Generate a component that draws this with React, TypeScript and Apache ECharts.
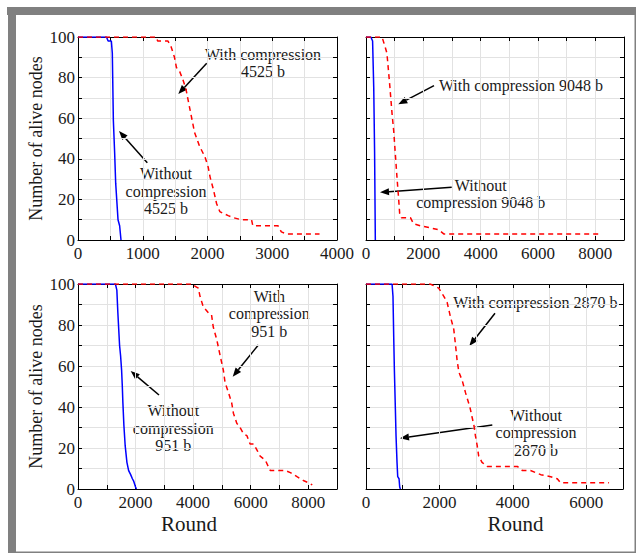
import React, { useEffect, useRef } from "react";
import * as echarts from "echarts";

// ---- data (Round, Number of alive nodes) ----
const p1Without = [[0,100],[440,100],[465,98],[515,98],[530,92],[546,59],[566,43],[582,28],[602,18],[618,10],[643,7],[664,0]];
const p1With = [[0,100],[1210,100],[1230,98],[1390,98],[1440,95],[1490,90],[1520,85],[1570,83],[1620,79],[1670,74],[1700,69],[1750,61],[1800,53],[1880,46],[1960,41],[2010,36],[2040,31],[2090,25],[2140,18],[2190,14],[2250,13],[2320,12],[2400,11],[2520,10],[2680,10],[2700,7],[3090,7],[3140,4],[3220,3],[3730,3]];
const p2Without = [[0,100],[170,100],[230,98],[270,75],[300,43],[325,0]];
const p2With = [[0,100],[560,100],[670,95],[730,92],[830,76],[910,62],[965,54],[1020,43],[1080,31],[1140,20],[1175,13],[1235,11],[1550,11],[1660,8],[1900,7],[2240,6],[2540,5],[2710,3],[8120,3]];
const p3Without = [[0,100],[1300,100],[1350,97],[1385,86],[1445,70],[1480,65],[1515,58],[1540,50],[1560,42],[1595,31],[1640,21],[1700,13],[1760,9],[1830,7],[1890,5],[1930,4],[2000,1],[2030,0]];
const p3With = [[0,100],[4000,100],[4060,99],[4180,98],[4240,94],[4350,89],[4530,86],[4640,85],[4700,79],[4820,73],[4940,65],[5050,58],[5110,52],[5230,47],[5340,42],[5400,37],[5520,32],[5630,30],[5750,27],[5870,26],[5980,22],[6100,22],[6220,19],[6330,16],[6510,14],[6680,9],[7030,9],[7210,9],[7380,8],[7610,6],[7850,4],[8020,3],[8140,2]];
const p4Without = [[0,100],[710,100],[735,94],[755,74],[773,58],[800,39],[818,26],[845,13],[864,6],[900,5],[918,1],[936,0]];
const p4With = [[0,100],[1750,100],[1980,98],[2120,94],[2210,91],[2300,84],[2390,78],[2440,70],[2480,63],[2530,57],[2620,53],[2710,47],[2760,44],[2830,40],[2890,35],[2940,31],[2980,26],[3030,21],[3070,16],[3160,13],[3300,11],[4120,11],[4260,9],[4480,9],[4760,7],[5030,6],[5210,5],[5300,3],[6620,3]];

const xMax = [4000, 9000, 9000, 7000];
const xStep = [500, 1000, 1000, 1000];
const xLabelStep = [1000, 2000, 2000, 2000];
const yLabelStep = 20;
const yTitle = "Number of alive nodes";
const xTitle = "Round";

const FONT = "Liberation Serif";
const TXT = "#1a1a1a";

const grids = [
  { left: 78, top: 37, width: 259, height: 203 },
  { left: 366, top: 37, width: 258, height: 203 },
  { left: 78, top: 284, width: 259, height: 205 },
  { left: 366, top: 284, width: 257, height: 205 },
];

function arrow(x1: number, y1: number, x2: number, y2: number) {
  const dx = x2 - x1, dy = y2 - y1;
  const L = Math.hypot(dx, dy);
  const ux = dx / L, uy = dy / L;
  const hl = 9, hw = 3.5;
  const bx = x2 - ux * hl, by = y2 - uy * hl;
  return {
    type: "group",
    children: [
      { type: "line", shape: { x1, y1, x2: bx, y2: by }, style: { stroke: "#000", lineWidth: 1.5 } },
      {
        type: "polygon",
        shape: { points: [[x2, y2], [bx - uy * hw, by + ux * hw], [bx + uy * hw, by - ux * hw]] },
        style: { fill: "#000" },
      },
    ],
  };
}

function label(text: string, x: number, y: number, size = 16, lh = 17.5) {
  return {
    type: "text",
    x, y,
    style: {
      text, textAlign: "center", textVerticalAlign: "middle",
      fontFamily: FONT, fontSize: size, fill: TXT, lineHeight: lh,
    },
  };
}

export default function App() {
  const ref = useRef<HTMLDivElement>(null);
  useEffect(() => {
    document.body.style.margin = "0";
    const chart = echarts.init(ref.current!, undefined, { renderer: "svg" });
    const xAxes: any[] = [];
    const yAxes: any[] = [];
    const tickFont = { fontFamily: FONT, fontSize: 17, color: TXT };
    grids.forEach((_, i) => {
      const common = {
        type: "value", gridIndex: i, min: 0,
        axisLine: { show: true, onZero: false, lineStyle: { color: "#000", width: 1 } },
        axisTick: { show: true, inside: true, length: 4, lineStyle: { color: "#000" } },
      };
      xAxes.push({
        ...common, position: "bottom", max: xMax[i], interval: xStep[i],
        splitLine: { show: true, lineStyle: { color: "#e2e2e2", width: 1 } },
        axisLabel: {
          show: true, margin: 5, ...tickFont,
          showMaxLabel: true, showMinLabel: true,
          formatter: (v: number) => (v % xLabelStep[i] === 0 ? String(v) : ""),
        },
      });
      xAxes.push({
        ...common, position: "top", max: xMax[i], interval: xStep[i],
        splitLine: { show: false }, axisLabel: { show: false },
      });
      const leftLabels = i % 2 === 0;
      yAxes.push({
        ...common, position: "left", max: 100, interval: 10,
        splitLine: { show: true, lineStyle: { color: "#e2e2e2", width: 1 } },
        axisLabel: {
          show: leftLabels, margin: 3, ...tickFont,
          formatter: (v: number) => (v % yLabelStep === 0 ? String(v) : ""),
        },
        name: leftLabels ? yTitle : "",
        nameLocation: "middle", nameGap: 33,
        nameTextStyle: { fontFamily: FONT, fontSize: 18, color: TXT },
      });
      yAxes.push({
        ...common, position: "right", max: 100, interval: 10,
        splitLine: { show: false }, axisLabel: { show: false },
      });
    });

    const data = [
      [p1Without, p1With],
      [p2Without, p2With],
      [p3Without, p3With],
      [p4Without, p4With],
    ];
    const series: any[] = [];
    data.forEach((pair, i) => {
      series.push({
        type: "line", xAxisIndex: 2 * i, yAxisIndex: 2 * i, data: pair[0],
        showSymbol: false, symbol: "none", z: 3,
        lineStyle: { color: "#0000ff", width: 1.5 },
      });
      series.push({
        type: "line", xAxisIndex: 2 * i, yAxisIndex: 2 * i, data: pair[1],
        showSymbol: false, symbol: "none", z: 4,
        lineStyle: { color: "#ff0000", width: 1.5, type: [5, 4] },
      });
    });

    const graphic: any[] = [
      { type: "rect", shape: { x: 7, y: 7, width: 629, height: 8 }, style: { fill: "#808080" } },
      { type: "rect", shape: { x: 8, y: 7, width: 8, height: 546 }, style: { fill: "#808080" } },
      { type: "rect", shape: { x: 634.5, y: 7, width: 1.5, height: 546 }, style: { fill: "#808080" } },
      { type: "rect", shape: { x: 8, y: 551.5, width: 628, height: 1.5 }, style: { fill: "#808080" } },
      label(xTitle, 189, 524, 21, 18),
      label(xTitle, 515.5, 524, 21, 18),
      // plot 1
      label("With compression\n4525 b", 263, 63),
      arrow(206.7, 63.3, 178.3, 94),
      label("Without\ncompression\n4525 b", 166, 191),
      arrow(147.3, 162.7, 119, 131),
      // plot 2
      label("With compression 9048 b", 521, 85),
      arrow(434, 85.7, 398.3, 104.3),
      label("Without\ncompression 9048 b", 480.7, 194.2),
      arrow(451.7, 187.3, 380, 192.3),
      // plot 3
      label("With\ncompression\n951 b", 269.3, 313.8),
      arrow(258.3, 345, 232.7, 376.7),
      label("Without\ncompression\n951 b", 173.3, 428.3),
      arrow(159, 395, 130.7, 371),
      // plot 4
      label("With compression 2870 b", 535.3, 302.7),
      arrow(495, 313.3, 469.3, 346),
      label("Without\ncompression\n2870 b", 536, 432.5),
      arrow(492.3, 425, 400, 438.3),
    ];

    chart.setOption({
      animation: false,
      backgroundColor: "#ffffff",
      textStyle: { fontFamily: FONT, color: TXT },
      grid: grids.map((g) => ({ ...g, containLabel: false })),
      xAxis: xAxes,
      yAxis: yAxes,
      series,
      graphic,
    });
    return () => chart.dispose();
  }, []);
  return (
    <div
      ref={ref}
      style={{ position: "absolute", left: 0, top: 0, width: 637, height: 553 }}
    />
  );
}
